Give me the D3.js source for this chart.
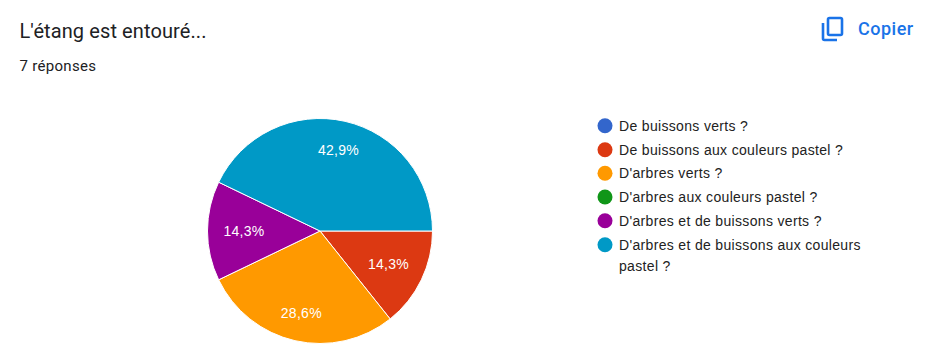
<!DOCTYPE html>
<html lang="fr">
<head>
<meta charset="utf-8">
<script src="https://cdn.jsdelivr.net/npm/d3@7/dist/d3.min.js"></script>
<style>
html,body{margin:0;padding:0;background:#fff;overflow:hidden}
svg{display:block}
</style>
</head>
<body>
<svg id="c" width="937" height="363"></svg>
<script>
const categories = ["De buissons verts ?","De buissons aux couleurs pastel ?","D'arbres verts ?","D'arbres aux couleurs pastel ?","D'arbres et de buissons verts ?","D'arbres et de buissons aux couleurs pastel ?"];
const legendLines = [["De buissons verts ?"],["De buissons aux couleurs pastel ?"],["D'arbres verts ?"],["D'arbres aux couleurs pastel ?"],["D'arbres et de buissons verts ?"],["D'arbres et de buissons aux couleurs","pastel ?"]];
const responses = [0,1,2,0,1,3];
const colors = ["#3366cc","#dc3912","#ff9900","#109618","#990099","#0099c6"];
const labelRadius = [0,76,84,0,76,83];
const title = "L'étang est entouré...";
const subtitle = "7 réponses";
const copyLabel = "Copier";

const svg = d3.select("#c");
const cx = 320, cy = 231, R = 112.5;
const total = d3.sum(responses);
const fmt = v => (v/total*100).toFixed(1).replace(".",",")+"%";

svg.append("text").text(title).attr("x",19.5).attr("y",38)
  .attr("font-family","Roboto").attr("font-size",20).attr("letter-spacing",0.1).attr("fill","#202124");
svg.append("text").text(subtitle).attr("x",19.5).attr("y",71)
  .attr("font-family","Roboto").attr("font-size",15).attr("letter-spacing",0.3).attr("fill","#202124");

// copy icon
const ic = svg.append("g").attr("fill","none").attr("stroke","#1a73e8").attr("stroke-width",2.6);
ic.append("rect").attr("x",828).attr("y",18).attr("width",14).attr("height",17).attr("rx",1.5);
ic.append("path").attr("d","M823 23V38.5a1.5 1.5 0 0 0 1.5 1.5H837");
svg.append("text").text(copyLabel).attr("x",858).attr("y",35)
  .attr("font-family","Roboto").attr("font-size",18).attr("font-weight",500).attr("letter-spacing",0.5).attr("fill","#1a73e8");

const pie = d3.pie().sort(null).startAngle(Math.PI/2).endAngle(Math.PI*2.5);
const arcs = pie(responses);
const arc = d3.arc().innerRadius(0).outerRadius(R);
const g = svg.append("g").attr("transform",`translate(${cx},${cy})`);
g.selectAll("path").data(arcs.filter(d=>d.value>0)).join("path")
  .attr("d",arc).attr("fill",d=>colors[d.index]).attr("stroke","#fff").attr("stroke-width",1);
g.selectAll("text").data(arcs.filter(d=>d.value>0)).join("text")
  .text(d=>fmt(d.value))
  .attr("transform",d=>{
    const r = labelRadius[d.index];
    const [x,y] = d3.arc().innerRadius(r).outerRadius(r).centroid(d);
    return `translate(${x},${y+5})`;
  })
  .attr("text-anchor","middle").attr("font-family","'Liberation Sans'").attr("font-size",14).attr("letter-spacing",0.3).attr("fill","#fff");

const rowY = [125.7,149.7,173.3,197,220.7,244.7];
const leg = svg.append("g");
legendLines.forEach((lines,i)=>{
  leg.append("circle").attr("cx",605).attr("cy",rowY[i]).attr("r",7.5).attr("fill",colors[i]);
  lines.forEach((t,j)=>{
    leg.append("text").text(t).attr("x",619).attr("y",Math.round(rowY[i]+5)+j*20.5)
      .attr("font-family","'Liberation Sans'").attr("font-size",14).attr("letter-spacing",0.33).attr("fill","#222");
  });
});
</script>
</body>
</html>
